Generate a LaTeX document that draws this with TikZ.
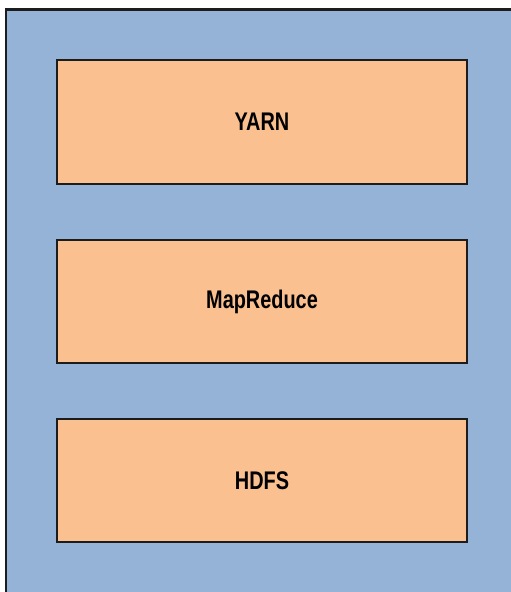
\documentclass[tikz,border=0pt]{standalone}
\usepackage{fontspec}
\usepackage{graphicx}
\newfontfamily\layerfont{Liberation Sans}
\usetikzlibrary{positioning}

\definecolor{stackblue}{RGB}{149,179,215}
\definecolor{layerorange}{RGB}{250,192,143}
\definecolor{edgegray}{RGB}{28,28,28}

\tikzset{
  layer/.style={draw=edgegray, line width=2.4pt, fill=layerorange,
    minimum width=410pt, minimum height=123.5pt, inner sep=0pt,
    font=\layerfont\bfseries\fontsize{25.5}{30}\selectfont}
}
\newcommand{\narrow}[1]{\scalebox{0.78}[1]{#1}}

\begin{document}
\begin{tikzpicture}[x=1pt, y=1pt]
\useasboundingbox (0,0) rectangle (511,592);
\clip (0,0) rectangle (511,592);
% outer frame, runs off to the right and bottom
\draw [draw=edgegray, line width=2.4pt, fill=stackblue] (6,582.5) rectangle (530,-20);
% the three layers
\node [layer] (yarn) at (262,470) {\narrow{YARN}\hspace{10pt}};
\node [layer] (mapreduce) at (262,290.5) {\narrow{MapReduce}\hspace{6pt}};
\node [layer] (hdfs) at (262,111.5) {\narrow{HDFS}\hspace{10pt}};
\end{tikzpicture}
\end{document}
